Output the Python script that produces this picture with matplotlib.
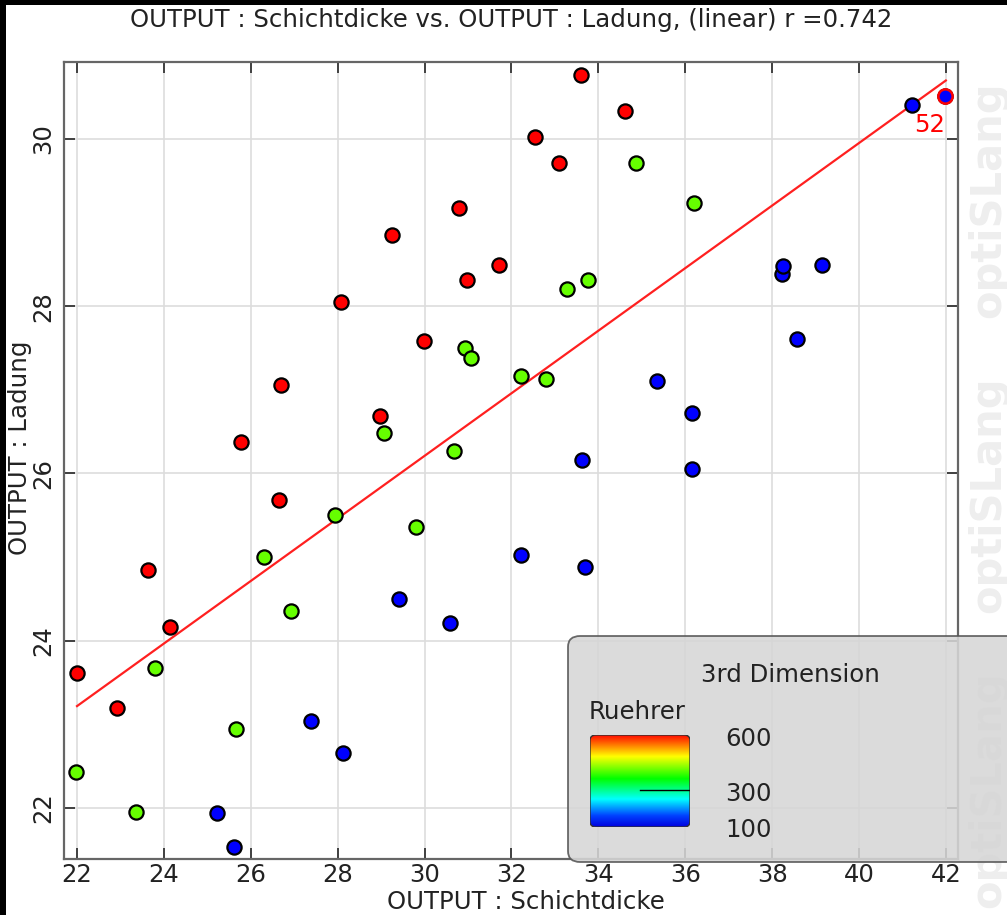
import numpy as np
import matplotlib
matplotlib.use("Agg")
import matplotlib.pyplot as plt
from matplotlib.colors import LinearSegmentedColormap
from matplotlib.patches import FancyBboxPatch, Rectangle

# data: (Schichtdicke, Ladung) grouped by Ruehrer level
schicht_600 = [22.00, 22.92, 23.63, 24.14, 25.77, 26.65, 26.70, 28.08, 28.97,
               29.25, 29.99, 30.79, 30.98, 31.71, 32.54, 33.09, 33.60, 34.61]
ladung_600 = [23.62, 23.19, 24.84, 24.16, 26.38, 25.68, 27.06, 28.05, 26.69,
              28.85, 27.58, 29.17, 28.31, 28.49, 30.02, 29.71, 30.77, 30.33]

schicht_300 = [21.98, 23.36, 23.80, 25.66, 26.30, 26.93, 27.94, 29.07, 29.80,
               30.68, 30.93, 31.07, 32.22, 32.79, 33.28, 33.76, 34.87, 36.20]
ladung_300 = [22.43, 21.95, 23.67, 22.94, 25.00, 24.35, 25.50, 26.48, 25.36,
              26.27, 27.50, 27.38, 27.16, 27.13, 28.21, 28.31, 29.71, 29.23]

schicht_100 = [25.22, 25.61, 27.39, 28.12, 29.41, 30.58, 32.22, 33.62, 33.69,
               35.35, 36.15, 36.15, 38.22, 38.25, 38.57, 39.15, 41.22, 41.98]
ladung_100 = [21.94, 21.53, 23.04, 22.66, 24.50, 24.21, 25.02, 26.16, 24.88,
              27.11, 26.72, 26.05, 28.39, 28.48, 27.61, 28.49, 30.41, 30.51]

ruehrer_levels = [600, 300, 100]
level_colors = {600: "#ff0000", 300: "#66ff00", 100: "#0000ff"}
highlight_label = "52"
highlight_xy = (41.98, 30.51)
r_value = 0.742

xticks = [22, 24, 26, 28, 30, 32, 34, 36, 38, 40, 42]
yticks = [22, 24, 26, 28, 30]
cbar_ticks = [600, 300, 100]

W, H = 1007, 915
fig = plt.figure(figsize=(W / 100, H / 100), dpi=100)
plt.rcParams['font.family'] = ['DejaVu Sans']
FS = 17.6

def fx(px):
    return px / W

def fy(py):
    return 1 - py / H

# watermark behind everything
for yc in [200, 495, 790]:
    fig.text(fx(988), fy(yc), "optiSLang", rotation=90, fontsize=30,
             fontweight="bold", color="#eeeeee", ha="center", va="center",
             zorder=0)

ax = fig.add_axes([fx(64), fy(859), fx(958) - fx(64), fy(62) - fy(859)])
ax.set_facecolor("none")
ax.set_xlim(21.7, 42.28)
ax.set_ylim(21.39, 30.92)
ax.set_xticks(xticks)
ax.set_yticks(yticks)
ax.grid(True, color="#dddddd", lw=1.2, zorder=0)
ax.tick_params(direction="in", length=8, width=1.3, color="#333333",
               top=True, right=True, labelsize=17.5, labelcolor="#222222", pad=3)
ax.tick_params(axis="y", pad=6)
for lbl in ax.get_yticklabels():
    lbl.set_rotation(90)
    lbl.set_va("center")
for s in ax.spines.values():
    s.set_color("#666666")
    s.set_linewidth(1.6)

all_x = np.array(schicht_600 + schicht_300 + schicht_100)
all_y = np.array(ladung_600 + ladung_300 + ladung_100)
k, d = np.polyfit(all_x, all_y, 1)
xl = np.array([22.0, 42.0])
ax.plot(xl, k * xl + d, color="#ff2020", lw=1.6, zorder=2)

groups = {600: (schicht_600, ladung_600), 300: (schicht_300, ladung_300),
          100: (schicht_100, ladung_100)}
for lev in ruehrer_levels:
    gx, gy = groups[lev]
    ax.scatter(gx, gy, s=105, c=level_colors[lev], edgecolors="black",
               linewidths=1.6, zorder=3)

ax.scatter([highlight_xy[0]], [highlight_xy[1]], s=105, c=level_colors[100],
           edgecolors="red", linewidths=1.8, zorder=4)
ax.annotate(highlight_label, highlight_xy, xytext=(-11, -21),
            textcoords="offset points", color="red", fontsize=FS,
            ha="center", va="center")

fig.text(fx(511), fy(20), f"OUTPUT : Schichtdicke vs. OUTPUT : Ladung, (linear) r ={r_value}",
         ha="center", va="center", fontsize=FS, color="#222222")
fig.text(fx(526), fy(902), "OUTPUT : Schichtdicke", ha="center", va="center",
         fontsize=FS, color="#222222")
fig.text(fx(20), fy(448), "OUTPUT : Ladung", ha="center", va="center",
         rotation=90, fontsize=FS, color="#222222")

# legend box
box = FancyBboxPatch((fx(568), fy(862)), fx(1030) - fx(568), fy(636) - fy(862),
                     boxstyle="round,pad=0,rounding_size=0.012",
                     transform=fig.transFigure, facecolor="#d6d6d6",
                     edgecolor="#555555", lw=1.3, alpha=0.88, zorder=5)
fig.patches.append(box)
fig.text(fx(790), fy(675), "3rd Dimension", ha="center", va="center",
         fontsize=FS, color="#222222", zorder=6)
fig.text(fx(589), fy(712), "Ruehrer", ha="left", va="center",
         fontsize=FS, color="#222222", zorder=6)

cmap = LinearSegmentedColormap.from_list(
    "rb", [(0, "#0000dd"), (0.12, "#0040ff"), (0.3, "#00ffff"),
           (0.52, "#00ff00"), (0.76, "#ffff00"), (1.0, "#ff0000")])
cax = fig.add_axes([fx(590), fy(827), fx(690) - fx(590), fy(735) - fy(827)],
                   zorder=6)
vmin, vmax = min(cbar_ticks), max(cbar_ticks)
grad = np.linspace(vmin, vmax, 256).reshape(-1, 1)
im = cax.imshow(grad, aspect="auto", cmap=cmap, origin="lower",
                extent=[0, 1, vmin, vmax])
clip = FancyBboxPatch((0, vmin), 1, vmax - vmin,
                      boxstyle="round,pad=0,rounding_size=0.06",
                      mutation_aspect=(vmax - vmin),
                      transform=cax.transData, facecolor="none",
                      edgecolor="#333333", lw=1)
cax.add_patch(clip)
im.set_clip_path(clip)
cax.plot([0.5, 1.0], [300, 300], color="black", lw=1)
cax.set_xlim(0, 1)
cax.set_ylim(vmin, vmax)
cax.axis("off")
for t, off in zip(cbar_ticks, [4, 4, 3]):
    yp = 827 - (t - vmin) / (vmax - vmin) * (827 - 735) + off
    fig.text(fx(725), fy(yp), str(t), ha="left", va="center", fontsize=FS,
             color="#222222", zorder=7)

# black frame strips on left and top edge
fig.patches.append(Rectangle((0, 0), fx(6), 1, transform=fig.transFigure,
                             facecolor="black", edgecolor="none", zorder=10))
fig.patches.append(Rectangle((0, fy(5)), 1, 1, transform=fig.transFigure,
                             facecolor="black", edgecolor="none", zorder=10))

fig.savefig("out.png", dpi=100)
